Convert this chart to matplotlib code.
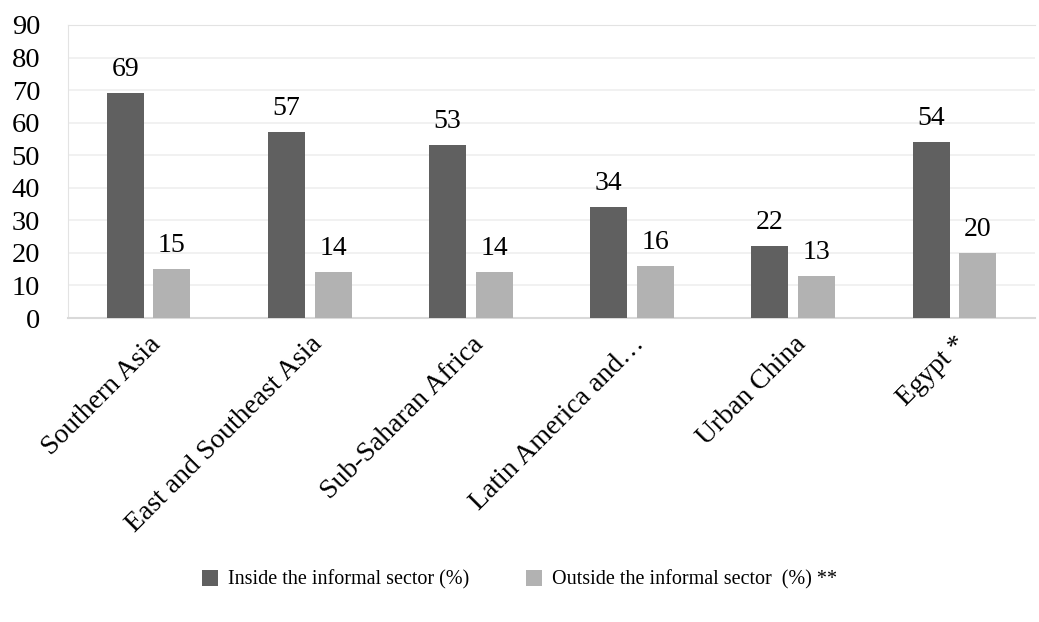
import matplotlib
matplotlib.use("Agg")
import matplotlib.pyplot as plt
import numpy as np

categories = ["Southern Asia", "East and Southeast Asia", "Sub-Saharan Africa",
              "Latin America and…", "Urban China", "Egypt *"]
inside = [69, 57, 53, 34, 22, 54]
outside = [15, 14, 14, 16, 13, 20]
series_names = ["Inside the informal sector (%)", "Outside the informal sector  (%) **"]
yticks = list(range(0, 91, 10))

plt.rcParams["font.family"] = ["Liberation Serif", "DejaVu Serif"]
FS_TICK = 20.5
FS_VAL = 20
FS_CAT = 20
FS_LEG = 14.5

fig = plt.figure(figsize=(10.39, 6.22), dpi=100)
ax = fig.add_axes([68 / 1039, 1 - 318 / 622, (1035 - 68) / 1039, (318 - 25) / 622])

x = np.arange(len(categories))
w = 0.23
gap = 0.03
dark, light = "#606060", "#b2b2b2"
b1 = ax.bar(x - w / 2 - gap, inside, w, color=dark, label=series_names[0], zorder=3)
b2 = ax.bar(x + w / 2 + gap, outside, w, color=light, label=series_names[1], zorder=3)

for bars, vals in ((b1, inside), (b2, outside)):
    for r, v in zip(bars, vals):
        ax.annotate(f"{v}", (r.get_x() + r.get_width() / 2, v), xytext=(0, 8),
                    textcoords="offset points", ha="center", va="bottom", fontsize=FS_VAL)

ax.set_xlim(-0.5, len(categories) - 0.5)
ax.set_ylim(0, 90)
ax.set_yticks(yticks)
ax.set_yticklabels([str(t) for t in yticks], fontsize=FS_TICK)
ax.tick_params(axis="y", length=0, pad=20)
ax.set_xticks(x)
ax.set_xticklabels(categories, rotation=45, ha="right", rotation_mode="anchor", fontsize=FS_CAT)
ax.tick_params(axis="x", length=0, pad=10)
ax.yaxis.grid(True, color="#efefef", linewidth=1.2, zorder=0)
ax.set_axisbelow(True)
for side in ("left", "top"):
    ax.spines[side].set_color("#e3e3e3")
ax.spines["right"].set_visible(False)
ax.spines["bottom"].set_color("#d9d9d9")
ax.spines["bottom"].set_linewidth(1.5)

fig.legend(handles=[b1, b2], labels=series_names, loc="center", bbox_to_anchor=(0.5, 1 - 580 / 622),
           ncol=2, frameon=False, fontsize=FS_LEG, handlelength=0.8, handleheight=0.8,
           handletextpad=0.5, columnspacing=2.8)

fig.savefig("out.png", dpi=100)
